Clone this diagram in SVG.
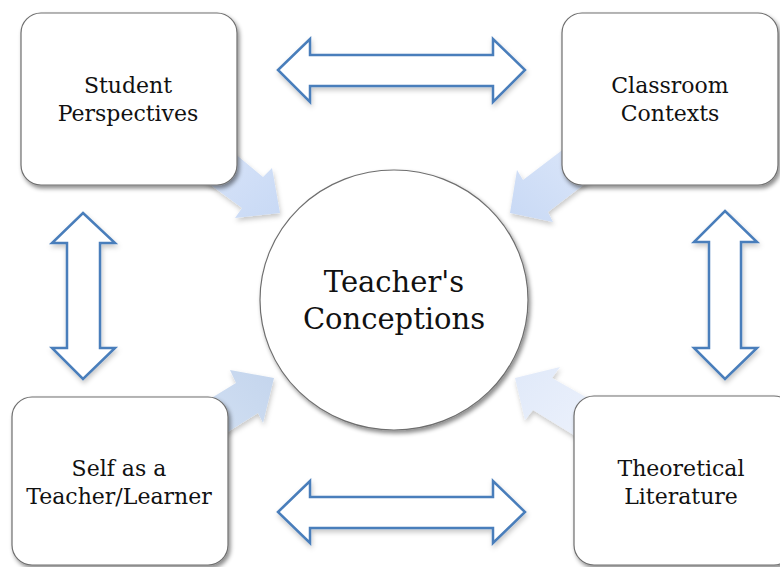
<svg xmlns="http://www.w3.org/2000/svg" width="780" height="567" viewBox="0 0 780 567">
<style>
.box{fill:#fff;stroke:#6e6e6e;stroke-width:1.2;filter:url(#sh)}
.lbl{font-family:"DejaVu Serif","Liberation Serif",serif;font-size:22px;fill:#111;text-anchor:middle}
.big{font-size:29px}
.dbl{fill:#fff;stroke:#4a7ebb;stroke-width:2.5;stroke-linejoin:miter;filter:url(#sh2)}
.blk{filter:url(#sh2)}
</style>
<defs>
<filter id="sh" x="-20%" y="-20%" width="140%" height="140%">
<feDropShadow dx="2" dy="3" stdDeviation="2.2" flood-color="#000" flood-opacity="0.45"/>
</filter>
<filter id="sh2" x="-20%" y="-20%" width="140%" height="140%">
<feDropShadow dx="1" dy="3" stdDeviation="2.5" flood-color="#000" flood-opacity="0.22"/>
</filter>
<linearGradient id="gTL" x1="0" y1="0" x2="1" y2="1"><stop offset="0" stop-color="#dbe6f9"/><stop offset="1" stop-color="#c8d9f5"/></linearGradient>
<linearGradient id="gTR" x1="1" y1="0" x2="0" y2="1"><stop offset="0" stop-color="#dbe6f9"/><stop offset="1" stop-color="#c8d9f5"/></linearGradient>
<linearGradient id="gBL" x1="0" y1="1" x2="1" y2="0"><stop offset="0" stop-color="#d2e0f3"/><stop offset="1" stop-color="#c4d5ed"/></linearGradient>
<linearGradient id="gBR" x1="1" y1="1" x2="0" y2="0"><stop offset="0" stop-color="#edf2fc"/><stop offset="1" stop-color="#e0e9f9"/></linearGradient>
</defs>
<g id="connectors">
<polygon class="blk" fill="url(#gTL)" points="215,137 263,177 272,168 280,213 235,218 242,208 190,170"/>
<polygon class="blk" fill="url(#gTR)" points="565,148 523,180 517,170 510,213 553,222 548,212 590,180"/>
<polygon class="blk" fill="url(#gBL)" points="200,405 236,383 230,370 274,378 263,423 258,413 215,440"/>
<polygon class="blk" fill="url(#gBR)" points="600,405 552,378 560,367 515,378 525,420 533,410 590,445"/>
<polygon class="dbl" points="278,70 310,39 310,55 493,55 493,39 525,70 493,102 493,86 310,86 310,102"/>
<polygon class="dbl" points="278,512 310,481 310,497 493,497 493,481 525,512 493,543 493,528 310,528 310,543"/>
<polygon class="dbl" points="83,213 115,243 100,243 100,348 115,348 83,379 52,348 67,348 67,243 52,243"/>
<polygon class="dbl" points="725,211 757,242 741,242 741,348 757,348 725,379 694,348 709,348 709,242 694,242"/>
</g>
<g id="student">
<rect class="box" x="21" y="13" width="216" height="172" rx="20"/>
<text class="lbl" x="128" y="93">Student</text>
<text class="lbl" x="128" y="121">Perspectives</text>
</g>
<g id="classroom">
<rect class="box" x="562" y="13" width="216" height="172" rx="20"/>
<text class="lbl" x="670" y="93">Classroom</text>
<text class="lbl" x="670" y="121">Contexts</text>
</g>
<g id="self">
<rect class="box" x="12" y="397" width="216" height="168" rx="20"/>
<text class="lbl" x="119" y="476">Self as a</text>
<text class="lbl" x="119" y="504">Teacher/Learner</text>
</g>
<g id="theory">
<rect class="box" x="574" y="396" width="220" height="169" rx="20"/>
<text class="lbl" x="681" y="476">Theoretical</text>
<text class="lbl" x="681" y="504">Literature</text>
</g>
<g id="center">
<ellipse class="box" cx="394" cy="300" rx="134" ry="130"/>
<text class="lbl big" x="394" y="292">Teacher's</text>
<text class="lbl big" x="394" y="329">Conceptions</text>
</g>
</svg>
